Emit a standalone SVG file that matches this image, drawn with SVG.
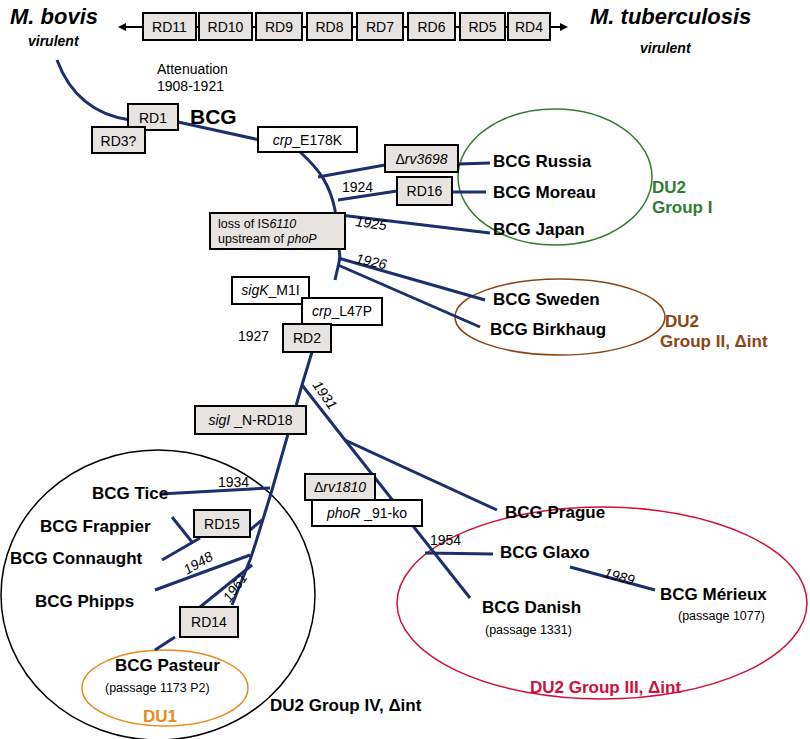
<svg xmlns="http://www.w3.org/2000/svg" width="810" height="739" viewBox="0 0 810 739">
<style>
text{font-family:"Liberation Sans",Arial,sans-serif;fill:#000}
.n{font-size:17px;font-weight:bold}
.s{font-size:12.5px}
.b{font-size:14px}
.bx{fill:#e6e3e0;stroke:#000;stroke-width:2}
.wb{fill:#fff;stroke:#000;stroke-width:2}
.c path,.c line{stroke:#1a2f6e;stroke-width:3;fill:none}
</style>
<defs><marker id="ah" markerWidth="8" markerHeight="8" refX="6" refY="4" orient="auto" markerUnits="userSpaceOnUse"><path d="M0,0 L8,4 L0,8Z" fill="#000"/></marker></defs>
<g id="top">
<line x1="130" y1="27" x2="566" y2="27" stroke="#000" stroke-width="2" marker-end="url(#ah)"/>
<line x1="140" y1="27" x2="120" y2="27" stroke="#000" stroke-width="2" marker-end="url(#ah)"/>
<rect class="bx" x="143" y="13" width="53" height="27"/><text x="169.5" y="32" text-anchor="middle" class="b">RD11</text>
<rect class="bx" x="199" y="13" width="53" height="27"/><text x="225.5" y="32" text-anchor="middle" class="b">RD10</text>
<rect class="bx" x="256" y="13" width="46" height="27"/><text x="279" y="32" text-anchor="middle" class="b">RD9</text>
<rect class="bx" x="307" y="13" width="45" height="27"/><text x="329.5" y="32" text-anchor="middle" class="b">RD8</text>
<rect class="bx" x="357" y="13" width="46" height="27"/><text x="380" y="32" text-anchor="middle" class="b">RD7</text>
<rect class="bx" x="408" y="13" width="47" height="27"/><text x="431.5" y="32" text-anchor="middle" class="b">RD6</text>
<rect class="bx" x="460" y="13" width="45" height="27"/><text x="482.5" y="32" text-anchor="middle" class="b">RD5</text>
<rect class="bx" x="508" y="13" width="42" height="27"/><text x="529" y="32" text-anchor="middle" class="b">RD4</text>
<text x="10" y="24" style="font-size:22px;font-weight:bold;font-style:italic">M. bovis</text>
<text x="28" y="46" style="font-size:14px;font-weight:bold;font-style:italic">virulent</text>
<text x="590" y="24" style="font-size:22px;font-weight:bold;font-style:italic">M. tuberculosis</text>
<text x="640" y="53" style="font-size:14px;font-weight:bold;font-style:italic">virulent</text>
</g>
<g id="groups" fill="none" stroke-width="1.5">
<ellipse cx="555" cy="177" rx="97" ry="68" stroke="#2e7d32"/>
<ellipse cx="560" cy="317" rx="105" ry="38" stroke="#8b4513"/>
<ellipse cx="158" cy="595" rx="157" ry="145" stroke="#000"/>
<ellipse cx="165" cy="688" rx="83" ry="38" stroke="#e8891a"/>
<ellipse cx="602" cy="603" rx="205" ry="96" stroke="#d0103a"/>
</g>
<g class="c" id="connectors">
<path d="M57,60 C70,95 95,115 130,120"/>
<path d="M178,122 L260,140"/>
<path d="M300,152 C320,170 330,185 335,210 L340,258 L335,280"/>
<path d="M318,177 L385,165"/><line x1="458" y1="164" x2="490" y2="163"/>
<path d="M338,200 L397,191"/><line x1="452" y1="192" x2="486" y2="192"/>
<path d="M340,215 L490,233"/>
<path d="M338,258 L485,300"/>
<path d="M338,265 L480,327"/>
<path d="M312,352 L302,385 L272,490 L255,545 L250,560 L240,585 L232,605"/>
<path d="M302,385 L345,440 L497,510"/>
<path d="M345,440 L470,598"/>
<path d="M160,494 L270,488"/>
<path d="M250,530 L262,520"/>
<path d="M172,517 L192,542"/>
<path d="M162,560 L200,538"/>
<path d="M155,590 L250,555"/>
<path d="M252,565 L200,607"/>
<path d="M175,637 L155,650"/>
<path d="M425,553 L493,554"/>
<path d="M570,567 L655,590"/>
</g>
<g id="boxes">
<rect class="bx" x="128" y="104" width="50" height="26"/><text x="153" y="123" text-anchor="middle" class="b">RD1</text>
<rect class="bx" x="92" y="127" width="53" height="26"/><text x="118.5" y="146" text-anchor="middle" class="b">RD3?</text>
<rect class="wb" x="258" y="127" width="99" height="25"/><text x="307.5" y="145" text-anchor="middle" class="b"><tspan font-style="italic">crp</tspan>_E178K</text>
<rect class="bx" x="385" y="145" width="73" height="27"/><text x="421.5" y="164" text-anchor="middle" class="b">Δ<tspan font-style="italic">rv3698</tspan></text>
<rect class="bx" x="397" y="177" width="55" height="28"/><text x="424.5" y="196" text-anchor="middle" class="b">RD16</text>
<rect class="bx" x="210" y="213" width="135" height="36"/><text x="218" y="228" class="s">loss of IS<tspan font-style="italic">6110</tspan></text><text x="218" y="243" class="s">upstream of <tspan font-style="italic">phoP</tspan></text>
<rect class="wb" x="232" y="277" width="77" height="27"/><text x="270.5" y="295" text-anchor="middle" class="b"><tspan font-style="italic">sigK</tspan>_M1I</text>
<rect class="wb" x="302" y="298" width="80" height="27"/><text x="342" y="316" text-anchor="middle" class="b"><tspan font-style="italic">crp</tspan>_L47P</text>
<rect class="bx" x="283" y="324" width="48" height="28"/><text x="307" y="343" text-anchor="middle" class="b">RD2</text>
<rect class="bx" x="195" y="406" width="111" height="28"/><text x="250.5" y="425" text-anchor="middle" class="b"><tspan font-style="italic">sigI</tspan> _N-RD18</text>
<rect class="bx" x="305" y="474" width="70" height="26"/><text x="340" y="492" text-anchor="middle" class="b">Δ<tspan font-style="italic">rv1810</tspan></text>
<rect class="wb" x="312" y="500" width="110" height="26"/><text x="367" y="518" text-anchor="middle" class="b"><tspan font-style="italic">phoR</tspan> _91-ko</text>
<rect class="bx" x="194" y="510" width="56" height="27"/><text x="222" y="529" text-anchor="middle" class="b">RD15</text>
<rect class="bx" x="180" y="607" width="58" height="30"/><text x="209" y="627" text-anchor="middle" class="b">RD14</text>
</g>
<g id="labels">
<text x="157" y="74" class="b">Attenuation</text><text x="157" y="91" class="b">1908-1921</text>
<text x="190" y="124" style="font-size:21px;font-weight:bold">BCG</text>
<text x="342" y="192" class="b">1924</text>
<text x="355" y="226" class="b" font-style="italic" transform="rotate(8 355 226)">1925</text>
<text x="355" y="263" class="b" font-style="italic" transform="rotate(12 355 263)">1926</text>
<text x="238" y="341" class="b">1927</text>
<text x="312" y="385" class="b" font-style="italic" transform="rotate(55 312 385)">1931</text>
<text x="218" y="487" class="b">1934</text>
<text x="187" y="575" class="b" font-style="italic" transform="rotate(-30 187 575)">1948</text>
<text x="230" y="603" class="b" font-style="italic" transform="rotate(-55 230 603)">1961</text>
<text x="430" y="545" class="b">1954</text>
<text x="603" y="577" class="b" font-style="italic" transform="rotate(15 603 577)">1989</text>
<text x="493" y="167" class="n">BCG Russia</text>
<text x="493" y="198" class="n">BCG Moreau</text>
<text x="493" y="235" class="n">BCG Japan</text>
<text x="652" y="193" class="n" style="fill:#2e7d32">DU2</text>
<text x="652" y="213" class="n" style="fill:#2e7d32">Group I</text>
<text x="493" y="305" class="n">BCG Sweden</text>
<text x="490" y="335" class="n">BCG Birkhaug</text>
<text x="665" y="327" class="n" style="fill:#8b4513">DU2</text>
<text x="660" y="347" class="n" style="fill:#8b4513">Group II, Δint</text>
<text x="505" y="518" class="n">BCG Prague</text>
<text x="500" y="558" class="n">BCG Glaxo</text>
<text x="660" y="600" class="n">BCG Mérieux</text>
<text x="678" y="620" class="s">(passage 1077)</text>
<text x="482" y="613" class="n">BCG Danish</text>
<text x="485" y="634" class="s">(passage 1331)</text>
<text x="530" y="693" class="n" style="fill:#d0103a">DU2 Group III, Δint</text>
<text x="92" y="499" class="n">BCG Tice</text>
<text x="40" y="532" class="n">BCG Frappier</text>
<text x="10" y="564" class="n">BCG Connaught</text>
<text x="35" y="607" class="n">BCG Phipps</text>
<text x="115" y="671" class="n">BCG Pasteur</text>
<text x="105" y="692" class="s">(passage 1173 P2)</text>
<text x="143" y="722" class="n" style="fill:#e8891a">DU1</text>
<text x="270" y="711" class="n">DU2 Group IV, Δint</text>
</g>
</svg>
